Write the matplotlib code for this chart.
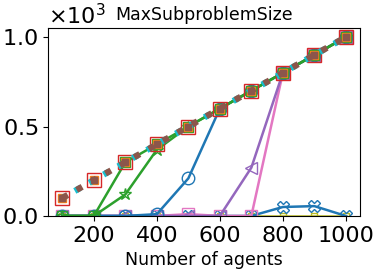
import matplotlib
matplotlib.use("Agg")
import matplotlib.pyplot as plt

agents = [100, 200, 300, 400, 500, 600, 700, 800, 900, 1000]

s_blue_o = [0, 0, 0, 10, 210, 600, 700, 800, 900, 1000]
s_orange = [100, 200, 300, 400, 500, 600, 700, 800, 900, 1000]
s_green_sq = [0, 0, 300, 400, 500, 600, 700, 800, 900, 1000]
s_green_star = [0, 0, 120, 370, 500, 600, 700, 800, 900, 1000]
s_red_sq = [100, 200, 300, 400, 500, 600, 700, 800, 900, 1000]
s_purple_tri = [0, 0, 0, 0, 0, 0, 270, 800, 900, 1000]
s_pink_sq = [0, 0, 0, 0, 10, 0, 0, 800, 900, 1000]
s_olive = [0, 0, 0, 0, 0, 0, 0, 0, 0, 0]
s_gray = [100, 200, 300, 400, 500, 600, 700, 800, 900, 1000]
s_cyan = [100, 200, 300, 400, 500, 600, 700, 800, 900, 1000]
s_blue_x = [0, 0, 0, 0, 0, 0, 0, 50, 55, 0]
s_brown = [100, 200, 300, 400, 500, 600, 700, 800, 900, 1000]

fig = plt.figure(figsize=(3.79, 2.73), dpi=100)
ax = fig.add_axes([0.127, 0.209, 0.823, 0.688])

ms = 9
ax.plot(agents, s_olive, color="#bcbd22", marker="s", ms=5, mfc="none", lw=1.8)
ax.plot(agents, s_blue_x, color="#1f77b4", marker="X", ms=ms, mfc="none", lw=1.8)
ax.plot(agents, s_pink_sq, color="#e377c2", marker="s", ms=ms, mfc="none", lw=1.8)
ax.plot(agents, s_purple_tri, color="#9467bd", marker="<", ms=ms, mfc="none", lw=1.8)
ax.plot(agents, s_blue_o, color="#1f77b4", marker="o", ms=ms, mfc="none", lw=1.8)
ax.plot(agents, s_green_star, color="#2ca02c", marker="*", ms=ms, mfc="none", lw=1.8)
ax.plot(agents, s_green_sq, color="#2ca02c", marker="s", ms=ms - 2, mfc="none", lw=1.8)
ax.plot(agents, s_orange, color="#ff7f0e", marker="s", ms=6, mfc="none", ls="none")
ax.plot(agents, s_gray, color="#7f7f7f", marker="s", ms=4, mfc="none", ls="none")
ax.plot(agents, s_red_sq, color="#d62728", marker="s", ms=ms + 1, mfc="none", ls="none")
ax.plot(agents, s_cyan, color="#17becf", marker="s", ms=3, lw=4.5, ls=(0.35, (1, 1.65)))
ax.plot(agents, s_brown, color="#8c564b", marker="s", ms=5, lw=4.5, ls=":")

ax.set_xlim(55, 1045)
ax.set_ylim(0, 1050)
ax.set_xticks([200, 400, 600, 800, 1000])
ax.set_yticks([0, 500, 1000])
ax.ticklabel_format(axis="y", style="sci", scilimits=(3, 3), useMathText=True)
ax.tick_params(labelsize=16)
ax.yaxis.get_offset_text().set_fontsize(16)
ax.set_xlabel("Number of agents", fontsize=12.5)
ax.set_title("MaxSubproblemSize", fontsize=12.5)

fig.savefig("out.png", dpi=100)
